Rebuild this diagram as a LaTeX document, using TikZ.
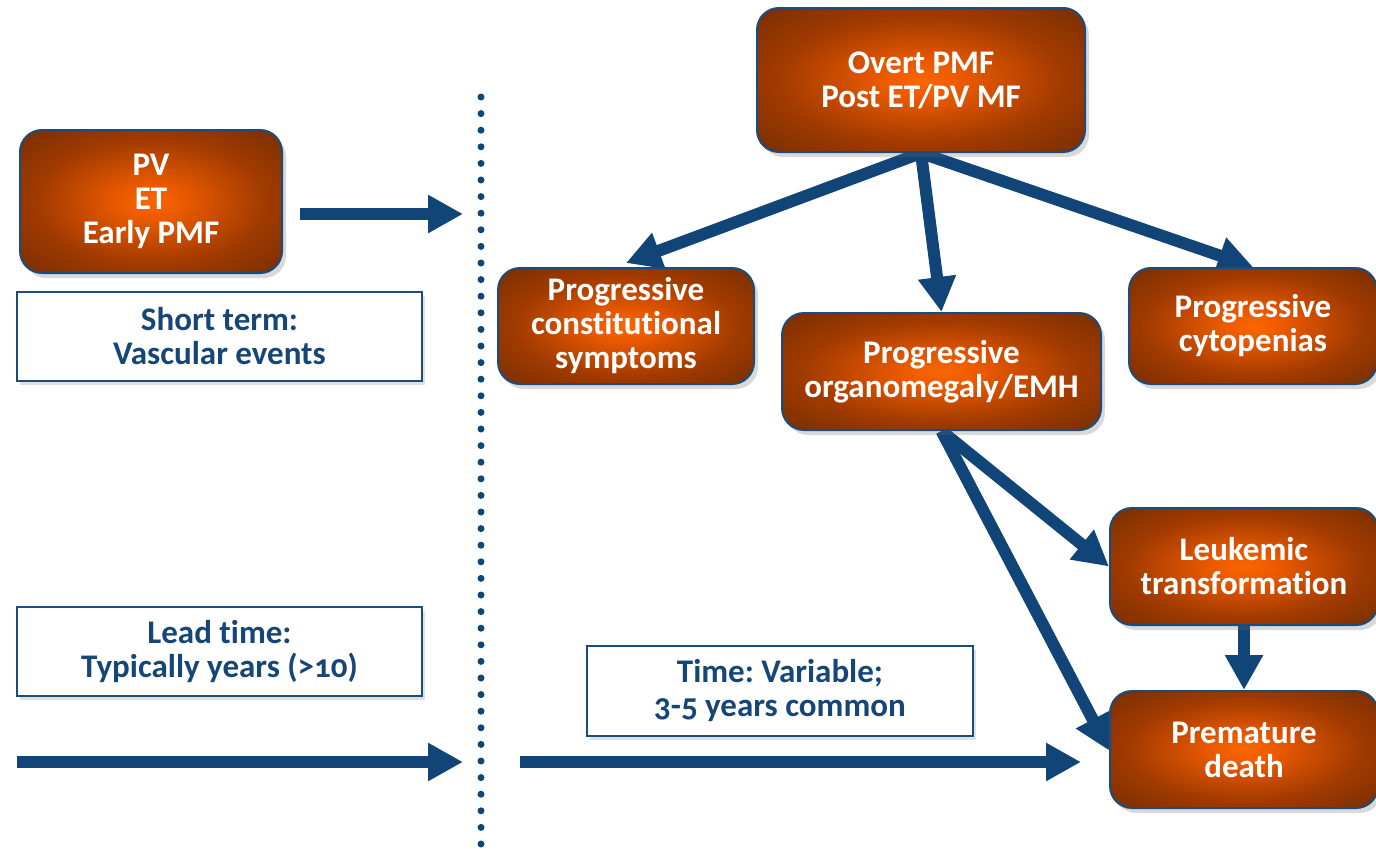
\documentclass[tikz,border=0pt]{standalone}
\usepackage{fontspec}
\setmainfont{Carlito}[Ligatures={NoCommon,NoRequired,NoContextual},Numbers=OldStyle]
\usetikzlibrary{arrows.meta,shadows,backgrounds}
\definecolor{arrowblue}{RGB}{18,69,119}
\definecolor{boxborder}{RGB}{28,75,125}
\definecolor{textblue}{RGB}{22,70,120}
\definecolor{glowin}{RGB}{250,102,0}
\definecolor{glowa}{RGB}{235,90,0}
\definecolor{glowb}{RGB}{160,58,0}
\definecolor{glowout}{RGB}{118,46,2}
\pgfdeclareradialshading{glow}{\pgfpoint{0bp}{0bp}}{color(0bp)=(glowin); color(6bp)=(glowa); color(22bp)=(glowb); color(36bp)=(glowout); color(50bp)=(glowout)}
\tikzset{
  obox/.style={draw=boxborder, line width=2pt, rounded corners=22pt, shading=glow,
    text=white, font=\frenchspacing\bfseries\fontsize{33}{34}\selectfont, align=center, inner sep=0pt,
    drop shadow={shadow xshift=4pt, shadow yshift=-5pt, opacity=0.25, fill=black!60}},
  wbox/.style={draw=boxborder, line width=2pt, fill=white,
    text=textblue, font=\frenchspacing\bfseries\fontsize{33}{34}\selectfont, align=center, inner sep=0pt,
    drop shadow={shadow xshift=3pt, shadow yshift=-4pt, opacity=0.2, fill=black!60}},
  arr/.style={draw=arrowblue, line width=12pt, -{Triangle[width=36pt,length=35pt]}},
  dotline/.style={draw=arrowblue, line width=7pt, line cap=round, dash pattern=on 0pt off 16.6pt}
}
\begin{document}
\begin{tikzpicture}[x=1pt,y=-1pt]
\useasboundingbox (0,0) rectangle (1376,852);
% boxes
\node[obox, minimum width=262pt, minimum height=143pt] (pv) at (151,201.5) {PV\\ET\\Early PMF};
\node[wbox, minimum width=405pt, minimum height=89pt] (st) at (219.5,336.5) {Short term:\\Vascular events};
\node[wbox, minimum width=405pt, minimum height=89pt] (lt) at (219.5,651.5) {Lead time:\\Typically years (>10)};
\node[wbox, minimum width=386pt, minimum height=90pt] (tm) at (780,691) {Time: Variable;\\3-5 years common};
\node[obox, minimum width=328pt, minimum height=144pt] (ov) at (921,80) {Overt PMF\\Post ET/PV MF};
\node[obox, minimum width=256pt, minimum height=116pt] (con) at (626,326) {Progressive\\constitutional\\symptoms};
\node[obox, minimum width=319pt, minimum height=117pt] (org) at (941.5,371.5) {Progressive\\organomegaly/EMH};
\node[obox, minimum width=248pt, minimum height=116pt] (cyt) at (1253,326) {Progressive\\cytopenias};
\node[obox, minimum width=268pt, minimum height=117pt] (leu) at (1244,566.5) {Leukemic\\transformation};
\node[obox, minimum width=268pt, minimum height=117pt] (pre) at (1244,749.5) {Premature\\death};
% free ends
\coordinate (pvA) at (300,214);
\coordinate (pvB) at (463,214);
\coordinate (b1) at (17,762);
\coordinate (b2) at (463,762);
\coordinate (b3) at (520,762);
\coordinate (b4) at (1081,762);
\coordinate (dtop) at (481,97);
\coordinate (dbot) at (481,846);
\begin{scope}[on background layer]
\draw[dotline] (dtop) -- (dbot);
\draw[arr] (pvA) -- (pvB);
\draw[arr] (b1) -- (b2);
\draw[arr] (b3) -- (b4);
\draw[arr] (ov.south) -- ([yshift=4pt]con.north);
\draw[arr] (ov.south) -- (org.north);
\draw[arr] (ov.south) -- (cyt.north);
\draw[arr] (org.south) -- (leu.west);
\draw[arr] (org.south) -- ([yshift=-1pt]pre.west);
\draw[arr] (leu.south) -- (pre.north);
\end{scope}
\end{tikzpicture}
\end{document}
